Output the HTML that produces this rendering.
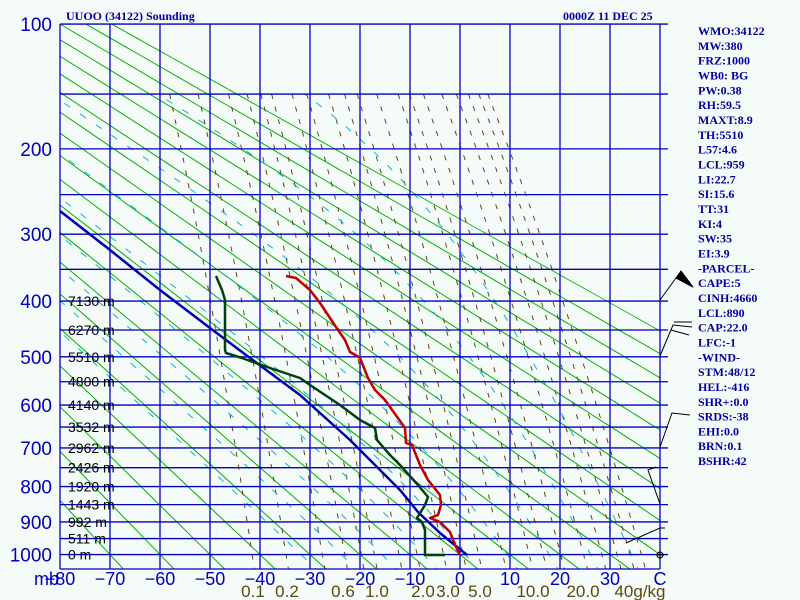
<!DOCTYPE html>
<html><head><meta charset="utf-8">
<style>
html,body{margin:0;padding:0;background:#f5fbf8;}
#c{position:absolute;left:0;top:0;}
</style></head><body>
<svg id="c" width="800" height="600" xmlns="http://www.w3.org/2000/svg">
<rect width="800" height="600" fill="#f5fbf8"/>
<defs><clipPath id="pc"><rect x="60" y="24" width="600" height="545"/></clipPath>
<clipPath id="gc"><polygon points="60,24 113,24 661,331 660,569 60,569"/></clipPath></defs>
<g id="gr" clip-path="url(#gc)"></g>
<g id="bg" clip-path="url(#pc)"></g>
<g id="grid"></g>
<g id="snd" clip-path="url(#pc)"></g>
<g id="txt" font-family="Liberation Sans, sans-serif"></g>
<g font-family="Liberation Serif, serif" font-weight="bold" font-size="12" fill="#0000a0">
<text x="66" y="20">UUOO (34122) Sounding</text>
<text x="563" y="20">0000Z 11 DEC 25</text>
</g>
<g id="rt" font-family="Liberation Serif, serif" font-weight="bold" font-size="12" fill="#0000a0"></g>
<g stroke="#000" stroke-width="1" fill="none">
<path d="M660 300 L676 278 L693 287 M676 278 L690 282"/>
<polygon points="676,278 681,271 693,287" fill="#000"/>
<path d="M660 356 L673 325 L692 327 M674 322 L692 322 M671 330 L689 335"/>
<path d="M660 447 L672 413 L690 415"/>
<path d="M660 504 L648 470 L656 467"/>
<path d="M626 543 L660 528 L665 528"/>
<circle cx="660" cy="555" r="3"/>
<path d="M656 555 H664 M660 551 V559"/>
</g>
</svg>
<script>
var NS="http://www.w3.org/2000/svg";
function Y(p){return 24+152.5*(Math.pow(p,0.286)-3.732);}
function X(t){return 460+5*t;}
function el(g,tag,a,txt){var e=document.createElementNS(NS,tag);for(var k in a)e.setAttribute(k,a[k]);if(txt!==undefined)e.textContent=txt;document.getElementById(g).appendChild(e);return e;}
var bg="bg";
// dry adiabats
for(var n=0;n<=19;n++){var th=203.15+10*n;
  var pts=[];for(var p=100;p<=1100;p+=20){pts.push(X(th*Math.pow(p/1000,0.286)-273.15).toFixed(1)+","+Y(p).toFixed(1));}
  el("gr","polyline",{points:pts.join(" "),fill:"none",stroke:"#00b000","stroke-width":1});
}
// mixing ratio lines
var ws=[0.1,0.2,0.4,0.6,0.8,1,1.5,2,3,4,5,7,10,12,15,20,25,30,35,40];
ws.forEach(function(w){var pts=[];for(var p=150;p<=1060;p+=10){var e=w*p/(622+w);var l=Math.log(e/6.112);var td=243.5*l/(17.67-l);pts.push(X(td).toFixed(1)+","+Y(p).toFixed(1));}
 el(bg,"polyline",{points:pts.join(" "),fill:"none",stroke:"#5a4a10","stroke-width":1,"stroke-dasharray":"5 8"});});
// moist adiabats
function es(t){return 6.112*Math.exp(17.67*t/(t+243.5));}
function gam(t,p){var T=t+273.15;var e=es(t);var r=0.622*e/(p-e);var L=2.5e6,Rd=287,cp=1005;
 var num=(Rd*T+L*r)/p;var den=cp+L*L*r*0.622/(Rd*T*T);return num/den;}
for(var t0=-28;t0<=40;t0+=8){var t=t0,pts=[];for(var p=1060;p>=150;p-=5){pts.push(X(t).toFixed(1)+","+Y(p).toFixed(1));t-=gam(t,p)*5;}
 el(bg,"polyline",{points:pts.join(" "),fill:"none",stroke:"#10b0c8","stroke-width":1,"stroke-dasharray":"7 12"});}
// grid
for(var i=0;i<=12;i++){el("grid","line",{x1:60+50*i,y1:24,x2:60+50*i,y2:569,stroke:"#0000c0","stroke-width":1.3});}
for(var p=100;p<=1000;p+=50){var y=Y(p);el("grid","line",{x1:60,y1:y,x2:668,y2:y,stroke:"#0000c0","stroke-width":1.3});}
el("grid","line",{x1:60,y1:569,x2:660,y2:569,stroke:"#0000c0","stroke-width":1.3});
// soundings
function line(pts,c,w){el("snd","polyline",{points:pts,fill:"none",stroke:c,"stroke-width":w,"stroke-linejoin":"round"});}
line("60,211 110,250 160,290 210,328 250,358 300,395 350,440 400,490 418,512 440,533 467,555","#0000b0",2.5);
line("216,276 222,290 225,300 225,350 226,353 242,358 270,368 300,378 310,385 340,405 360,420 375,428 377,440 390,455 400,465 418,485 428,497 425,505 417,518 422,522 425,530 425,555 445,555","#004010",2.5);
line("286,276 296,278 310,290 320,303 330,318 338,330 345,340 350,352 357,356 360,358 368,378 375,390 385,400 405,428 406,443 412,445 420,465 428,480 440,495 441,505 438,515 430,518 440,522 450,532 455,545 460,555","#c00000",2.5);
// pressure labels
for(var p=100;p<=1000;p+=100){el("txt","text",{x:52,y:Y(p)+7,"text-anchor":"end","font-size":19,fill:"#0000c0"},String(p));}
// heights
var hs=[[400,"7130 m"],[450,"6270 m"],[500,"5510 m"],[550,"4800 m"],[600,"4140 m"],[650,"3532 m"],[700,"2962 m"],[750,"2426 m"],[800,"1920 m"],[850,"1443 m"],[900,"992 m"],[950,"511 m"],[1000,"0 m"]];
hs.forEach(function(h){el("txt","text",{x:68,y:Y(h[0])+5,"font-size":14,fill:"#000"},h[1]);});
// temp labels
el("txt","text",{x:34,y:585,"font-size":18,fill:"#0000c0"},"mb");
for(var i=0;i<12;i++){var t=-80+10*i;el("txt","text",{x:60+50*i,y:585,"text-anchor":"middle","font-size":18,fill:"#0000c0"},t<0?"\u2212"+(-t):String(t));}
el("txt","text",{x:660,y:585,"text-anchor":"middle","font-size":18,fill:"#0000c0"},"C");
var ml=[[253,"0.1"],[287,"0.2"],[343,"0.6"],[377,"1.0"],[423,"2.0"],[448,"3.0"],[480,"5.0"],[533,"10.0"],[583,"20.0"],[640,"40g/kg"]];
ml.forEach(function(m){el("txt","text",{x:m[0],y:597,"text-anchor":"middle","font-size":17,fill:"#5a4a10"},m[1]);});
// right text
var rt=["WMO:34122","MW:380","FRZ:1000","WB0: BG","PW:0.38","RH:59.5","MAXT:8.9","TH:5510","L57:4.6","LCL:959","LI:22.7","SI:15.6","TT:31","KI:4","SW:35","EI:3.9","-PARCEL-","CAPE:5","CINH:4660","LCL:890","CAP:22.0","LFC:-1","-WIND-","STM:48/12","HEL:-416","SHR+:0.0","SRDS:-38","EHI:0.0","BRN:0.1","BSHR:42"];
rt.forEach(function(s,i){el("rt","text",{x:698,y:35+i*14.83},s);});
</script>
</body></html>
